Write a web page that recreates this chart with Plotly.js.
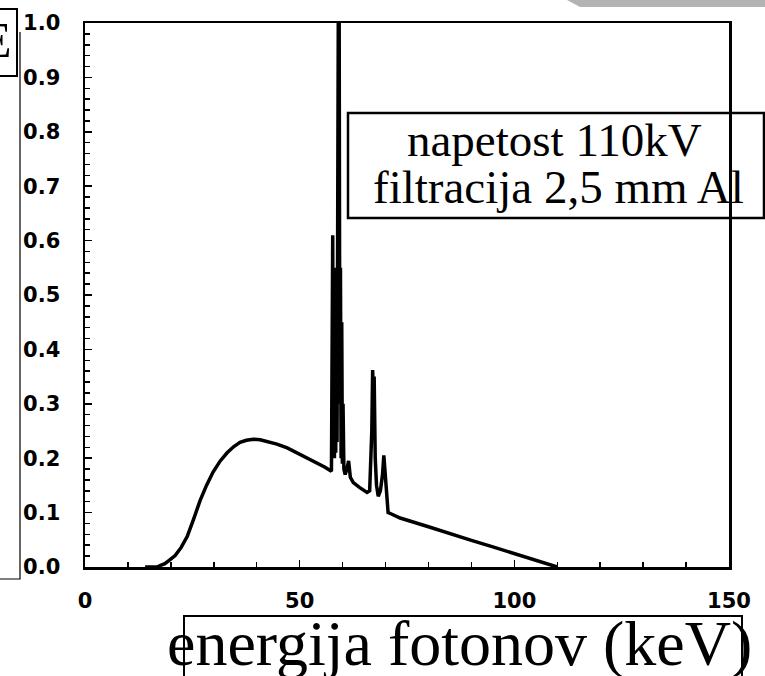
<!DOCTYPE html>
<html><head><meta charset="utf-8">
<script src="https://cdn.plot.ly/plotly-3.0.1.min.js"></script>
<style>html,body{margin:0;padding:0;background:#fff;overflow:hidden;} #chart{width:765px;height:676px;}</style>
</head><body><div id="chart"></div>
<script>
// ---- data ----
const energyKeV = [14, 16.8, 17.6, 18.6, 19.6, 21.0, 22.4, 23.8, 25.3, 26.8, 28.3, 29.8, 31.5, 33.1, 34.6, 36.1, 37.6, 39.2, 40.8, 42.4, 44.7, 47.1, 49.4, 51.7, 53.8, 55.8, 57.4,
  57.55, 57.7, 57.8, 57.95, 58.1, 58.25, 58.4, 58.55, 58.7, 58.85, 59.0, 59.1, 59.2, 59.35, 59.5, 59.65, 59.8, 59.95, 60.1, 60.3, 60.6, 61.0, 61.4, 61.8, 62.5, 64.0, 65.7,
  66.3, 66.8, 67.0, 67.2, 67.35, 67.6, 67.9, 68.3, 68.8, 69.3, 69.6, 69.8, 70.1, 70.6, 71.5, 73.4, 80, 85, 90, 95, 100, 105, 110];
const relIntensity = [0, 0.000, 0.003, 0.006, 0.012, 0.021, 0.036, 0.056, 0.088, 0.122, 0.150, 0.174, 0.195, 0.210, 0.221, 0.229, 0.233, 0.235, 0.234, 0.231, 0.226, 0.219, 0.210, 0.200, 0.192, 0.184, 0.176,
  0.50, 0.61, 0.22, 0.52, 0.20, 0.55, 0.21, 0.50, 0.23, 0.75, 1.02, 0.50, 1.02, 0.30, 0.55, 0.20, 0.45, 0.19, 0.30, 0.18, 0.17, 0.18, 0.195, 0.165, 0.155, 0.146, 0.137,
  0.14, 0.25, 0.362, 0.30, 0.35, 0.20, 0.15, 0.13, 0.14, 0.17, 0.205, 0.18, 0.14, 0.10, 0.097, 0.09, 0.074, 0.061, 0.049, 0.037, 0.025, 0.012, 0.0];

const xTickVals = [0, 50, 100, 150];
const xTickText = ['0', '50', '100', '150'];
const yTickVals = [0, 0.1, 0.2, 0.3, 0.4, 0.5, 0.6, 0.7, 0.8, 0.9, 1.0];
const yTickText = ['0.0', '0.1', '0.2', '0.3', '0.4', '0.5', '0.6', '0.7', '0.8', '0.9', '1.0'];
const boxLines = ['napetost 110kV', 'filtracija 2,5 mm Al'];
const xTitleText = 'energija fotonov (keV)';
const yTitleFragment = 'E';

// ---- layout helpers (pixel -> paper) ----
const W = 765, H = 676, L = 85, R = 36, T = 23, B = 109;
const PW = W - L - R, PH = H - T - B;
const px = x => (x - L) / PW;
const py = y => (H - B - y) / PH;

const serif = 'Liberation Serif, Times New Roman, serif';
const tickFont = {family: 'DejaVu Sans, Arial, sans-serif', size: 21, color: '#000', weight: 'bold'};

const trace = {
  x: energyKeV, y: relIntensity, type: 'scatter', mode: 'lines',
  line: {color: '#000', width: 3.5}, hoverinfo: 'skip', showlegend: false
};

const layout = {
  width: W, height: H,
  margin: {l: L, r: R, t: T, b: B, pad: 0},
  paper_bgcolor: '#fff', plot_bgcolor: '#fff',
  showlegend: false,
  xaxis: {
    range: [0, 150], tickmode: 'array', tickvals: xTickVals, ticktext: xTickText,
    ticks: 'inside', ticklen: 7, tickwidth: 1.5, tickcolor: '#000',
    minor: {dtick: 10, tick0: 0, ticks: 'inside', ticklen: 5, tickwidth: 1.5, tickcolor: '#000'},
    showline: true, mirror: true, linecolor: '#000', linewidth: 2.5,
    showgrid: false, zeroline: false, ticklabelstandoff: 13,
    tickfont: tickFont
  },
  yaxis: {
    range: [0, 1], tickmode: 'array', tickvals: yTickVals, ticktext: yTickText,
    ticks: 'inside', ticklen: 7, tickwidth: 1.5, tickcolor: '#000',
    minor: {dtick: 0.02, tick0: 0, ticks: 'inside', ticklen: 5, tickwidth: 1.5, tickcolor: '#000'},
    showline: true, mirror: true, linecolor: '#000', linewidth: 2.5,
    showgrid: false, zeroline: false, ticklabelstandoff: 18,
    tickfont: tickFont
  },
  shapes: [
    {type: 'path', xref: 'paper', yref: 'paper',
     path: `M ${px(567)} ${py(0)} L ${px(770)} ${py(0)} L ${px(770)} ${py(7)} L ${px(580)} ${py(7)} Z`,
     fillcolor: '#b3b3b3', line: {width: 0}},
    {type: 'rect', xref: 'paper', yref: 'paper', x0: px(348), x1: px(764), y0: py(113), y1: py(218),
     line: {color: '#000', width: 2.5}, fillcolor: 'rgba(0,0,0,0)'},
    {type: 'rect', xref: 'paper', yref: 'paper', x0: px(184), x1: px(742), y0: py(616), y1: py(680),
     line: {color: '#000', width: 2}, fillcolor: 'rgba(0,0,0,0)'},
    {type: 'rect', xref: 'paper', yref: 'paper', x0: px(-10), x1: px(17), y0: py(9), y1: py(76),
     line: {color: '#000', width: 2}, fillcolor: 'rgba(0,0,0,0)'},
    {type: 'path', xref: 'paper', yref: 'paper',
     path: `M ${px(20)} ${py(32)} L ${px(20)} ${py(579)} L ${px(-5)} ${py(579)}`,
     line: {color: '#000', width: 1.2}}
  ],
  annotations: [
    {xref: 'paper', yref: 'paper', x: px(554), y: py(140), text: boxLines[0], showarrow: false,
     xanchor: 'center', yanchor: 'middle', font: {family: serif, size: 47, color: '#000'}},
    {xref: 'paper', yref: 'paper', x: px(558), y: py(187), text: boxLines[1], showarrow: false,
     xanchor: 'center', yanchor: 'middle', font: {family: serif, size: 47, color: '#000'}},
    {xref: 'paper', yref: 'paper', x: px(165), y: py(643), text: xTitleText, showarrow: false,
     xanchor: 'left', yanchor: 'middle', font: {family: serif, size: 64, color: '#000'}},
    {xref: 'paper', yref: 'paper', x: px(14), y: py(40), text: yTitleFragment, showarrow: false,
     xanchor: 'right', yanchor: 'middle', font: {family: serif, size: 50, color: '#000'}}
  ]
};

Plotly.newPlot('chart', [trace], layout, {displayModeBar: false, staticPlot: true});
</script>
</body></html>
